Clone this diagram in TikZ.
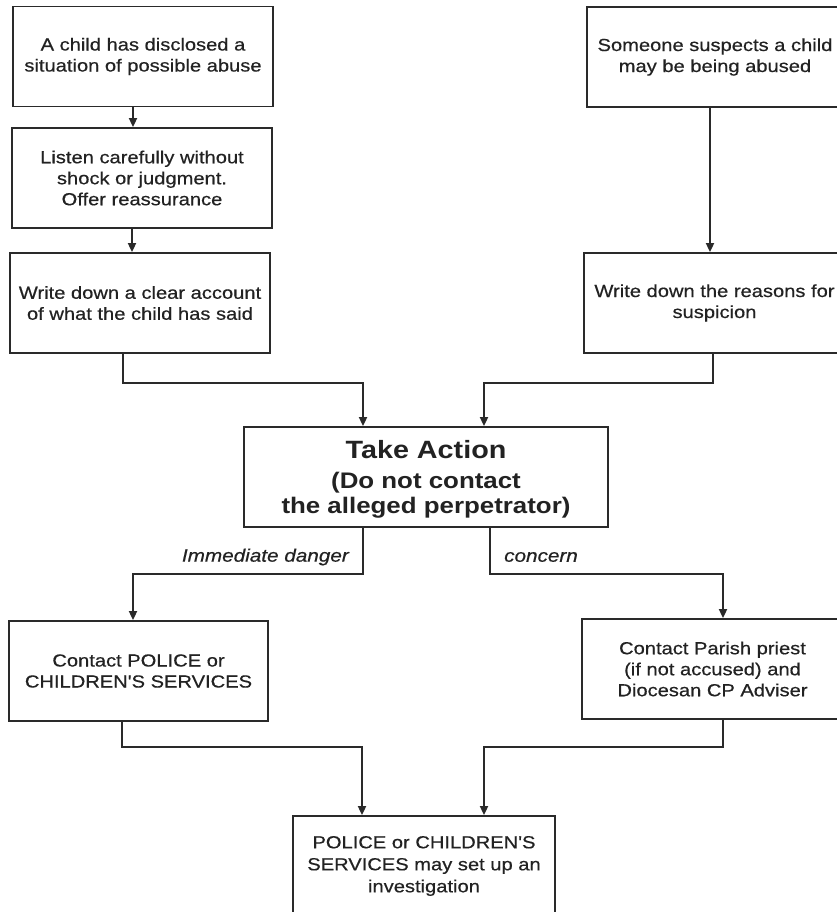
\documentclass[tikz,border=0pt]{standalone}
\usepackage{fontspec}
\setmainfont{Liberation Sans}[FakeStretch=1.15]
\newfontfamily\bodyf{Liberation Sans}[FakeStretch=1.15,FakeBold=0.5]
\usetikzlibrary{arrows.meta}
\definecolor{linec}{HTML}{2A2A2A}
\definecolor{textc}{HTML}{222222}
\tikzset{
  box/.style={draw=linec, line width=1.8pt, minimum height=100pt, inner sep=0pt,
    align=center, text=textc, font=\bodyf\fontsize{17.5}{21}\selectfont},
  arr/.style={draw=linec, line width=1.8pt, -{Triangle[length=9pt,width=8pt]}},
  lab/.style={inner sep=0pt, text=textc, font=\bodyf\itshape\fontsize{18}{21}\selectfont}
}
\begin{document}
\begin{tikzpicture}[x=1pt,y=-1pt]
\clip (0,0) rectangle (837,912);
\fill[white] (0,0) rectangle (837,912);

\node[box, minimum width=260pt] (b1) at (143,56.5) {A child has disclosed a\\situation of possible abuse};
\node[box, minimum width=260pt] (b2) at (142,178) {Listen carefully without\\shock or judgment.\\Offer reassurance};
\node[box, minimum width=260pt] (b3) at (140,303) {Write down a clear account\\of what the child has said};
\node[box, minimum width=256pt] (b4) at (715,57) {Someone suspects a child\\may be being abused};
\node[box, minimum width=261pt] (b5) at (714.5,303) {Write down the reasons for\\suspicion};
\node[box, minimum width=364pt, font=\rmfamily\bfseries\fontsize{22.5}{25}\selectfont] (ta) at (426,477)
  {\\[-2pt]{\fontsize{25}{28}\selectfont Take Action}\\[5pt](Do not contact\\the alleged perpetrator)};
\node[box, minimum width=259pt] (b7) at (138.5,671) {Contact POLICE or\\CHILDREN'S SERVICES};
\node[box, minimum width=261pt] (b8) at (712.5,669) {Contact Parish priest\\(if not accused) and\\Diocesan CP Adviser};
\node[box, minimum width=262pt, font=\bodyf\fontsize{17.5}{22}\selectfont] (b9) at (424,866) {POLICE or CHILDREN'S\\SERVICES may set up an\\investigation};

\node[lab, anchor=east] (l1) at (349,557) {Immediate danger};
\node[lab, anchor=west] (l2) at (504,557) {concern};

\draw[arr] ([xshift=-10pt]b1.south) -- ([xshift=-9pt]b2.north);
\draw[arr] ([xshift=-10pt]b2.south) -- ([xshift=-8pt]b3.north);
\draw[arr] ([xshift=-17pt]b3.south) -- ++(0,29) -| ([xshift=-63pt]ta.north);
\draw[arr] ([xshift=-5pt]b4.south) -- ([xshift=-4.5pt]b5.north);
\draw[arr] ([xshift=-1.5pt]b5.south) -- ++(0,29) -| ([xshift=58pt]ta.north);
\draw[arr] ([xshift=-63pt]ta.south) -- ++(0,46) -| ([xshift=-5.5pt]b7.north);
\draw[arr] ([xshift=64pt]ta.south) -- ++(0,46) -| ([xshift=10.5pt]b8.north);
\draw[arr] ([xshift=-16.5pt]b7.south) -- ++(0,25) -| ([xshift=-62pt]b9.north);
\draw[arr] ([xshift=10.5pt]b8.south) -- ++(0,27) -| ([xshift=60pt]b9.north);
\end{tikzpicture}
\end{document}
